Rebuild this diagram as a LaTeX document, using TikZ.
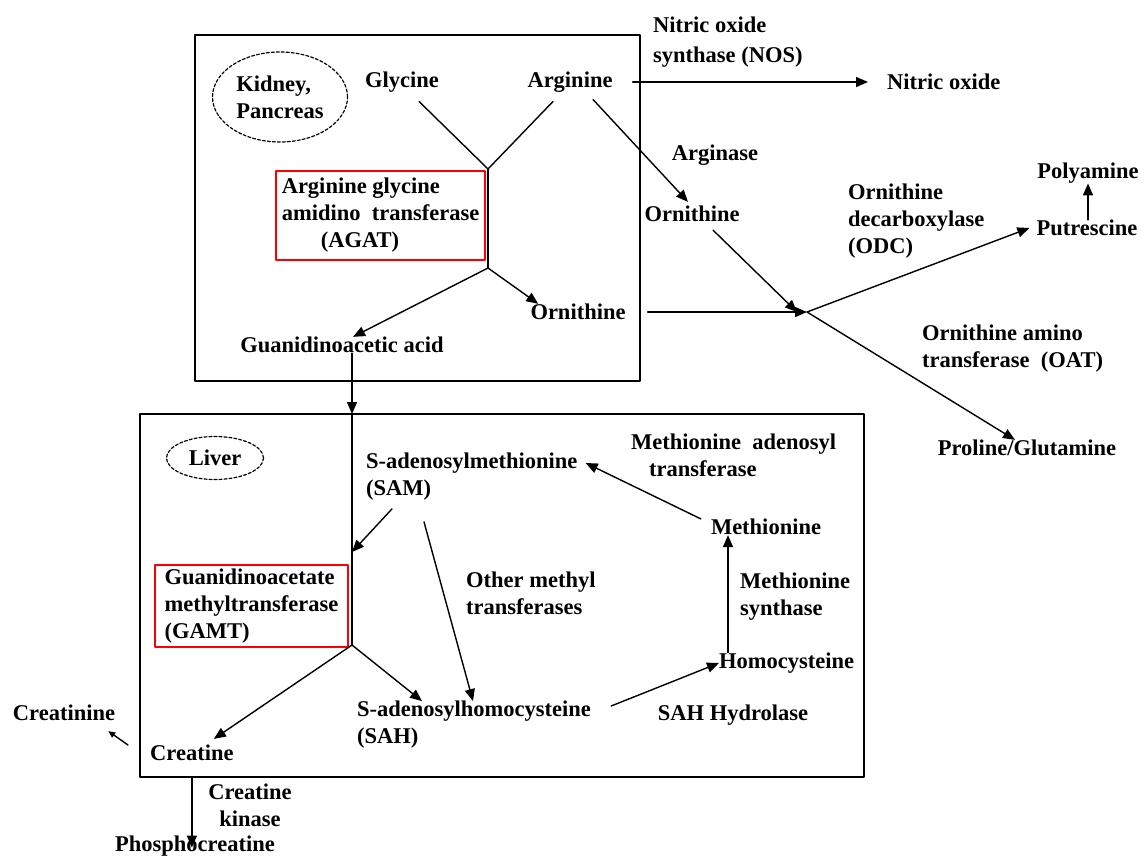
\documentclass[tikz,border=0pt]{standalone}
\usepackage{fontspec}
\setmainfont{Liberation Serif}
\usetikzlibrary{arrows.meta,shapes.geometric}

\begin{document}
\begin{tikzpicture}[line join=round, line cap=round, >={Triangle[length=12pt,width=10pt]}, x=1pt, y=-1pt,
	font=\fontsize{22.5}{27}\selectfont\bfseries,
	txt/.style={inner sep=0pt},
	lbl/.style={inner sep=0pt, align=left, anchor=west},
	organ/.style={draw, dashed, dash pattern=on 3pt off 2pt, ellipse, line width=1.2pt, inner sep=0pt, align=left},
	enzbox/.style={draw=red, line width=1.5pt, align=left, inner sep=0pt},
	conn/.style={line width=1.4pt}]
	\useasboundingbox (0,0) rectangle (1145,856);
	% compartments
	\draw[line width=2pt] (195,35) rectangle (640,381);
	\draw[line width=2pt] (140,414) rectangle (864,777);
	% kidney, pancreas
	\node[organ, minimum width=135, minimum height=90] (kid) at (280,97) {Kidney,\\Pancreas};
	\node[txt] (gly) at (402,82) {Glycine};
	\node[txt] (arg) at (570,82) {Arginine};
	\node[enzbox, minimum width=209, minimum height=89] (agat) at (380.5,215.5) {Arginine glycine\\amidino\ \ transferase\\\hspace{39pt}(AGAT)};
	\coordinate (jA) at (488,169);
	\coordinate (jB) at (488,268);
	\node[txt] (gaa) at (342,345) {Guanidinoacetic acid};
	\node[txt] (orn1) at (578,312) {Ornithine};
	% outside
	\node[lbl] (nos) at (653,42) {Nitric oxide\\[3pt]synthase (NOS)};
	\node[lbl] (no) at (887,82) {Nitric oxide};
	\node[txt] (ase) at (715,155) {Arginase};
	\node[txt] (orn2) at (692,214) {Ornithine};
	\coordinate (jD) at (807,312);
	\node[lbl] (odc) at (848,221) {Ornithine\\decarboxylase\\(ODC)};
	\node[txt] (put) at (1087,228) {Putrescine};
	\node[txt] (poly) at (1088,173) {Polyamine};
	\node[lbl] (oat) at (922,349) {Ornithine amino\\transferase\ \ (OAT)};
	\node[txt] (pro) at (1027,448) {Proline/Glutamine};
	% liver
	\node[organ, minimum width=97, minimum height=43] (liv) at (215,458) {Liver};
	\node[lbl] (sam) at (366,477) {S-adenosylmethionine\\(SAM)};
	\node[lbl] (mat) at (631,455) {Methionine\ \ adenosyl\\\hspace{18pt}transferase};
	\node[txt] (met) at (766,527) {Methionine};
	\node[lbl] (ms) at (740,597) {Methionine\\synthase};
	\node[lbl] (hcy) at (719,663) {Homocysteine};
	\node[txt] (sahh) at (733,715) {SAH Hydrolase};
	\node[lbl] (sah) at (357,725) {S-adenosylhomocysteine\\(SAH)};
	\node[lbl] (omt) at (466,593) {Other methyl\\transferases};
	\node[enzbox, minimum width=193, minimum height=82] (gamt) at (251.5,606) {Guanidinoacetate\\methyltransferase\\(GAMT)};
	\coordinate (lvtop) at (352,414);
	\coordinate (jE) at (352,552);
	\coordinate (jC) at (352,645);
	\node[lbl] (cre) at (150,753) {Creatine};
	\node[txt] (crn) at (64,713) {Creatinine};
	\node[txt, align=center] (ck) at (250,805) {Creatine\\kinase};
	\node[txt] (pcr) at (195,846) {Phosphocreatine};
	% AGAT reaction
	\draw[conn] ([shift={(17,9)}]gly.south) -- (jA) -- ([shift={(-17,9)}]arg.south);
	\draw[conn] (jA) -- (jB);
	\draw[conn,->] (jB) -- ([xshift=11pt]gaa.north);
	\draw[conn,->] (jB) -- ([xshift=8pt]orn1.north west);
	\draw[conn,->] ([xshift=10pt]gaa.south) -- (lvtop);
	% arginine fates
	\draw[conn,->] ([xshift=20pt]arg.east) -- ([xshift=-19pt]no.west);
	\draw[conn,->] ([shift={(23,7)}]arg.south) -- ([shift={(-4,-4)}]orn2.north);
	\draw[conn,->] ([shift={(21,8)}]orn2.south) -- ([xshift=-10pt]jD);
	\draw[conn,->] ([xshift=22pt]orn1.east) -- (jD);
	\draw[conn,->] (jD) -- ([xshift=-7pt]put.west);
	\draw[conn,->] (jD) -- ([xshift=-12pt]pro.north);
	\draw[conn,->] (poly.south |- put.north) -- (poly.south);
	% methionine cycle
	\draw[conn,->] ([xshift=-10pt]met.north west) -- ([shift={(8,-14)}]sam.east);
	\draw[conn,->] ([shift={(26,8)}]sam.south west) -- (jE);
	\draw[conn,->] ([shift={(58,21)}]sam.south west) -- ([xshift=116pt]sah.north west);
	\draw[conn] (lvtop) -- (jC);
	\draw[conn,->] (jC) -- ([shift={(22,-6)}]cre.north);
	\draw[conn,->] (jC) -- ([xshift=65pt]sah.north west);
	\draw[conn,->] ([shift={(20,-19)}]sah.east) -- (hcy.west);
	\draw[conn,->] ([xshift=9pt]hcy.north west) -- ([xshift=9pt]hcy.north west |- met.south);
	% creatine fates
	\draw[conn,->,shorten >=4pt] ([yshift=-16pt]cre.south) -- ([yshift=-16pt]cre.south |- pcr.north);
	\draw[conn,-{Triangle[length=7pt,width=6pt]}] ([shift={(-22,-8)}]cre.west) -- ([shift={(-7,10)}]crn.south east);
\end{tikzpicture}
\end{document}
